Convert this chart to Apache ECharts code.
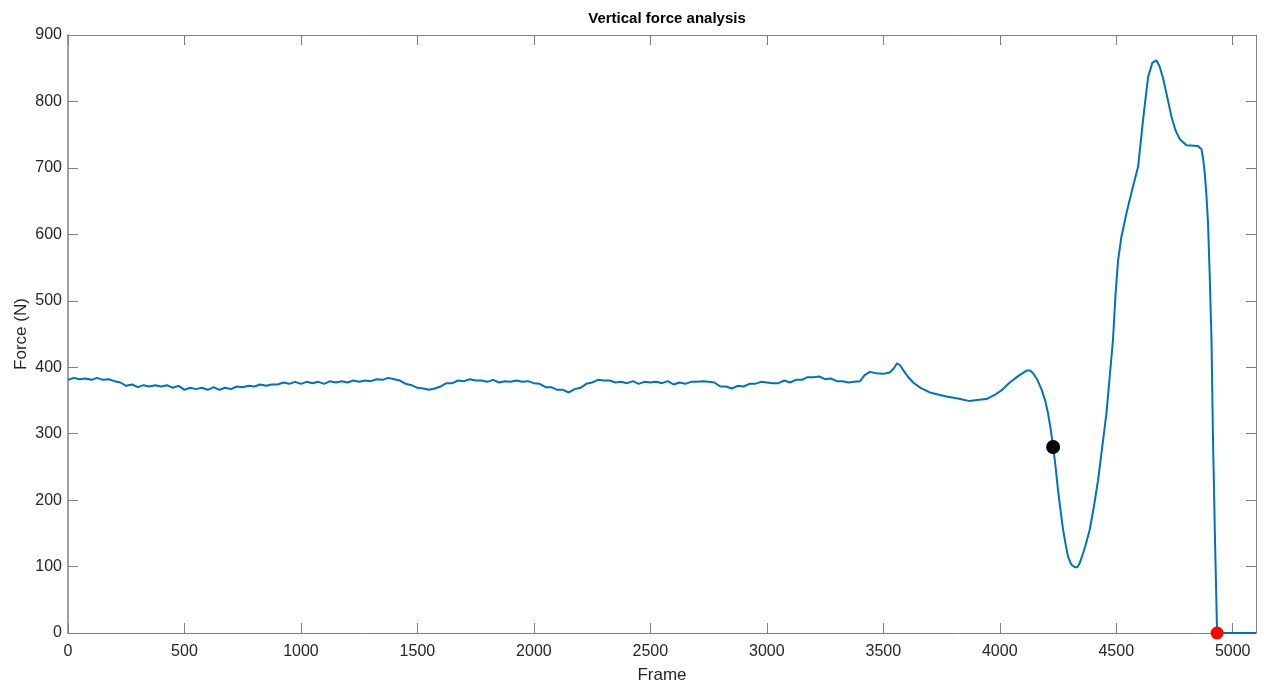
<!DOCTYPE html>
<html>
<head>
<meta charset="utf-8">
<script src="https://cdn.jsdelivr.net/npm/echarts@6/dist/echarts.min.js"></script>
<style>
  html, body { margin: 0; padding: 0; background: #fff; overflow: hidden; }
  #chart { width: 1264px; height: 682px; }
</style>
</head>
<body>
<div id="chart"></div>
<script>
const chart = echarts.init(document.getElementById('chart'))

// frame numbers and force values
const frames = [
  0, 25, 50, 75, 100, 125, 150, 175, 200, 225, 250, 275, 300, 325, 350, 375, 400, 425, 450, 475,
  500, 525, 550, 575, 600, 625, 650, 675, 700, 725, 750, 775, 800, 825, 850, 875, 900, 925, 950, 975,
  1000, 1025, 1050, 1075, 1100, 1125, 1150, 1175, 1200, 1225, 1250, 1275, 1300, 1325, 1350, 1375, 1400, 1425, 1450, 1475,
  1500, 1525, 1550, 1575, 1600, 1625, 1650, 1675, 1700, 1725, 1750, 1775, 1800, 1825, 1850, 1875, 1900, 1925, 1950, 1975,
  2000, 2025, 2050, 2075, 2100, 2125, 2150, 2175, 2200, 2225, 2250, 2275, 2300, 2325, 2350, 2375, 2400, 2425, 2450, 2475,
  2500, 2525, 2550, 2575, 2600, 2625, 2650, 2675, 2700, 2725, 2750, 2775, 2800, 2825, 2850, 2875, 2900, 2925, 2950, 2975,
  3000, 3025, 3050, 3075, 3100, 3125, 3150, 3175, 3200, 3225, 3250, 3275, 3300, 3325, 3350, 3375, 3400, 3420, 3442,
  3470, 3500, 3528, 3545, 3559, 3572, 3585, 3605, 3628, 3660, 3700, 3735, 3771, 3820, 3871, 3910, 3943, 3986,
  4010, 4043, 4080, 4115, 4130, 4143, 4160, 4179, 4195, 4207, 4218, 4229, 4240, 4250, 4261, 4272, 4283,
  4293, 4307, 4322, 4333, 4343, 4365, 4386, 4404, 4422, 4440, 4458, 4472, 4486, 4497, 4508, 4522, 4544,
  4572, 4594, 4615, 4627, 4637, 4655, 4672, 4686, 4701, 4720, 4737, 4755, 4773, 4801,
  4851, 4866, 4873, 4880, 4887, 4894, 4901, 4909, 4915, 4924, 4933, 5100,
]
const forces = [
  381, 384, 382, 383, 381, 384, 381, 382, 379, 377, 372, 374, 370, 373, 371, 373, 371, 373, 369, 372,
  366, 369, 367, 369, 366, 370, 366, 369, 367, 371, 370, 372, 371, 374, 372, 374, 374, 377, 375, 378,
  375, 378, 376, 378, 375, 379, 377, 379, 377, 380, 378, 380, 379, 382, 381, 384, 382, 380, 375, 373,
  369, 368, 366, 368, 371, 376, 376, 380, 379, 382, 380, 380, 378, 381, 377, 379, 378, 380, 378, 379,
  376, 375, 370, 370, 366, 366, 362, 367, 369, 375, 377, 381, 380, 380, 377, 378, 376, 379, 375, 378,
  377, 378, 376, 379, 374, 377, 375, 378, 378, 379, 378, 377, 371, 371, 368, 372, 371, 375, 375, 378,
  377, 376, 376, 380, 377, 381, 381, 385, 385, 386, 382, 383, 379, 379, 377, 378, 379, 388, 393,
  391, 390, 392, 398, 406, 403, 396, 386, 377, 369, 362, 359, 356, 353, 349, 351, 352, 360,
  366, 377, 387, 395, 395, 391, 382, 367, 350, 331, 308, 281, 249, 215, 184, 155, 133,
  115, 103, 99, 99, 105, 128, 155, 190, 230, 280, 331, 386, 441, 510, 561, 596, 632,
  672, 702, 772, 808, 837, 858, 862, 853, 835, 805, 777, 756, 743, 734,
  733, 728, 714, 692, 660, 617, 541, 441, 300, 140, 0, 0,
]
const blackPoint = [4229, 280]
const redPoint = [4933, 0]

const xTicks = [0, 500, 1000, 1500, 2000, 2500, 3000, 3500, 4000, 4500, 5000]
const yTicks = [0, 100, 200, 300, 400, 500, 600, 700, 800, 900]

const axisColor = '#262626'
const lineColor = '#808080'

const baseTick = { show: true, inside: true, length: 10, lineStyle: { color: lineColor, width: 1 } }

const option = {
  animation: false,
  backgroundColor: '#fff',
  title: {
    text: 'Vertical force analysis',
    left: 662,
    top: 6,
    textAlign: 'center',
    textStyle: { fontFamily: 'Liberation Sans', fontSize: 15, fontWeight: 'bold', color: '#000' },
  },
  grid: { left: 68, right: 8, top: 35, bottom: 49, containLabel: false, outerBoundsMode: 'none' },
  xAxis: [
    {
      type: 'value',
      min: 0,
      max: 5100,
      interval: 500,
      name: 'Frame',
      nameLocation: 'middle',
      nameGap: 34,
      nameMoveOverlap: false,
      nameTextStyle: { fontFamily: 'Liberation Sans', fontSize: 17, color: axisColor },
      axisLine: { show: true, onZero: false, lineStyle: { color: lineColor, width: 1 } },
      axisTick: baseTick,
      axisLabel: {
        fontFamily: 'Liberation Sans',
        fontSize: 16,
        color: axisColor,
        margin: 11,
        formatter: (v) => (xTicks.includes(v) ? String(v) : ''),
      },
      splitLine: { show: false },
    },
    {
      type: 'value',
      position: 'top',
      min: 0,
      max: 5100,
      interval: 500,
      axisLine: { show: true, onZero: false, lineStyle: { color: lineColor, width: 1 } },
      axisTick: baseTick,
      axisLabel: { show: false },
      splitLine: { show: false },
    },
  ],
  yAxis: [
    {
      type: 'value',
      min: 0,
      max: 900,
      interval: 100,
      name: 'Force (N)',
      nameLocation: 'middle',
      nameGap: 38,
      nameMoveOverlap: false,
      nameTextStyle: { fontFamily: 'Liberation Sans', fontSize: 17, color: axisColor },
      axisLine: { show: true, onZero: false, lineStyle: { color: lineColor, width: 1.5 } },
      axisTick: baseTick,
      axisLabel: {
        fontFamily: 'Liberation Sans',
        fontSize: 16,
        color: axisColor,
        margin: 6,
        formatter: (v) => (yTicks.includes(v) ? String(v) : ''),
      },
      splitLine: { show: false },
    },
    {
      type: 'value',
      position: 'right',
      min: 0,
      max: 900,
      interval: 100,
      axisLine: { show: true, onZero: false, lineStyle: { color: lineColor, width: 1 } },
      axisTick: baseTick,
      axisLabel: { show: false },
      splitLine: { show: false },
    },
  ],
  series: [
    {
      name: 'Force',
      type: 'line',
      data: frames.map((f, i) => [f, forces[i]]),
      showSymbol: false,
      smooth: false,
      lineStyle: { color: '#0072BD', width: 2 },
      z: 2,
    },
    {
      name: 'Start',
      type: 'scatter',
      data: [blackPoint],
      symbolSize: 14,
      itemStyle: { color: '#000', opacity: 1 },
      z: 3,
    },
    {
      name: 'Takeoff',
      type: 'scatter',
      data: [redPoint],
      symbolSize: 13,
      itemStyle: { color: '#ff0000', opacity: 1 },
      z: 3,
    },
  ],
}

chart.setOption(option)
</script>
</body>
</html>
